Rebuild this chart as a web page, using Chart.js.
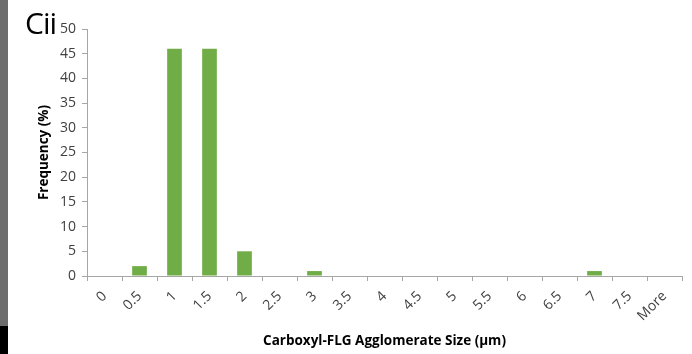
<!DOCTYPE html>
<html>
<head>
<meta charset="utf-8">
<script src="https://cdn.jsdelivr.net/npm/chart.js@4/dist/chart.umd.min.js"></script>
<style>
  body { margin: 0; background: #fff; }
  #wrap { position: relative; width: 692px; height: 354px; }
  #side { position: absolute; left: 0; top: 0; width: 8px; height: 326px; background: #6d6d6d; }
  #sideb { position: absolute; left: 0; top: 326px; width: 8px; height: 28px; background: #000; }
  #lbl { position: absolute; left: 25px; top: 2px; font: 30px "Open Sans", sans-serif; color: #000; letter-spacing: -1px; }
</style>
</head>
<body>
<div id="wrap">
  <canvas id="myChart" width="692" height="354"></canvas>
  <div id="side"></div>
  <div id="sideb"></div>
  <div id="lbl">Cii</div>
</div>
<script>
var sizes = ['0', '0.5', '1', '1.5', '2', '2.5', '3', '3.5', '4', '4.5', '5', '5.5', '6', '6.5', '7', '7.5', 'More'];
var frequency = [0, 2, 46, 46, 5, 0, 1, 0, 0, 0, 0, 0, 0, 0, 1, 0, 0];
var yTicks = [0, 5, 10, 15, 20, 25, 30, 35, 40, 45, 50];

var axisColor = '#a6a6a6';
var fontFamily = '"Open Sans", sans-serif';

const config = {
    type: 'bar',
    data: {
        labels: sizes,
        datasets: [{
            label: 'Frequency',
            data: frequency,
            backgroundColor: '#70ad47',
            categoryPercentage: 1,
            barPercentage: 0.42
        }]
    },
    options: {
        responsive: false,
        animation: false,
        layout: { padding: { top: 29, right: 10, left: 0, bottom: 1 } },
        plugins: { legend: { display: false }, tooltip: { enabled: false } },
        scales: {
            x: {
                grid: { display: true, drawOnChartArea: false, color: axisColor, tickLength: 5 },
                border: { color: axisColor },
                ticks: { color: '#404040', font: { family: fontFamily, size: 14 }, maxRotation: 45, minRotation: 45, padding: 7 },
                title: { display: true, text: 'Carboxyl-FLG Agglomerate Size (µm)', color: '#000', font: { family: fontFamily, size: 13.5, weight: 'bold' }, padding: { top: 6, bottom: 4 } },
                afterFit: function(scale) { scale.height = 77; }
            },
            y: {
                min: 0,
                max: 50,
                afterBuildTicks: function(scale) { scale.ticks = yTicks.map(function(v) { return { value: v }; }); },
                grid: { display: true, drawOnChartArea: false, color: axisColor, tickLength: 5 },
                border: { color: axisColor },
                ticks: { color: '#404040', font: { family: fontFamily, size: 14 }, padding: 6 },
                title: { display: true, text: 'Frequency (%)', color: '#000', font: { family: fontFamily, size: 13.5, weight: 'bold' }, padding: { top: 36, bottom: 36 } },
                afterFit: function(scale) { scale.width = 87; }
            }
        }
    }
};

const myChart = new Chart(document.getElementById('myChart'), config);
</script>
</body>
</html>
